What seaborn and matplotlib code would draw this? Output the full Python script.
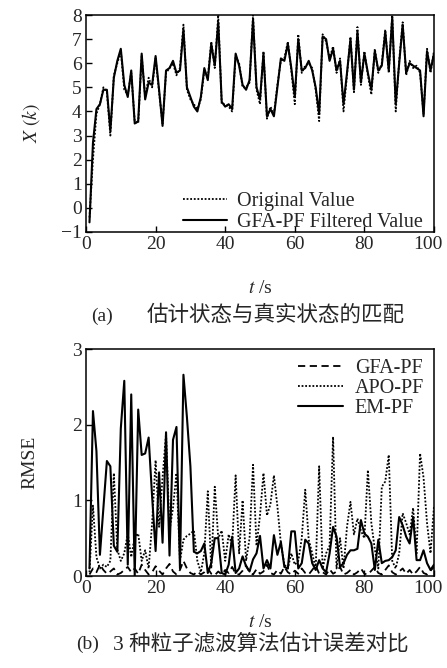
import numpy as np
import pandas as pd
import matplotlib
matplotlib.use('Agg')
import matplotlib.pyplot as plt
from matplotlib.transforms import ScaledTranslation
import seaborn as sns

# time steps
t = np.arange(1, 101)

# panel (a): state estimate vs true state
x_filtered = [-0.6, 2.7, 4.1, 4.3, 4.9, 4.9, 3.2, 5.4, 6.1, 6.6,
              5.1, 4.6, 5.7, 3.5, 3.6, 6.4, 4.5, 5.2, 5.1, 6.3,
              4.9, 3.4, 5.7, 5.8, 6.1, 5.6, 5.7, 7.4, 5.0, 4.6,
              4.2, 4.0, 4.6, 5.8, 5.3, 6.8, 5.9, 7.7, 4.4, 4.2,
              4.3, 4.1, 6.4, 5.9, 5.1, 4.9, 5.3, 7.8, 5.0, 4.5,
              6.4, 3.8, 4.1, 3.8, 5.0, 6.2, 6.1, 6.8, 5.8, 4.6,
              7.0, 5.7, 5.8, 6.1, 5.7, 5.0, 3.9, 7.1, 7.0, 6.1,
              6.6, 5.7, 6.1, 4.3, 5.6, 7.0, 4.9, 7.3, 5.2, 6.4,
              5.6, 4.9, 6.5, 5.7, 5.9, 7.3, 5.7, 7.9, 4.3, 6.0,
              7.6, 5.6, 6.0, 5.9, 5.8, 5.7, 3.8, 6.5, 5.7, 6.4]
x_original = [-0.4, 2.0, 3.9, 4.3, 5.0, 4.8, 3.0, 5.5, 6.0, 6.5,
              4.9, 4.7, 5.6, 3.6, 3.5, 6.3, 4.6, 5.4, 5.0, 6.2,
              4.8, 3.5, 5.6, 5.8, 6.0, 5.5, 5.8, 7.6, 4.9, 4.5,
              4.3, 4.1, 4.5, 5.7, 5.4, 6.9, 5.8, 8.0, 4.3, 4.3,
              4.2, 4.0, 6.3, 6.0, 5.0, 5.0, 5.2, 8.0, 4.9, 4.3,
              6.5, 3.7, 4.2, 3.9, 5.1, 6.1, 6.2, 6.9, 5.7, 4.3,
              7.2, 5.6, 5.9, 6.0, 5.8, 4.9, 3.6, 7.2, 6.9, 6.2,
              6.7, 5.6, 6.2, 4.0, 5.5, 7.1, 4.8, 7.5, 5.1, 6.5,
              5.5, 4.7, 6.6, 5.6, 6.0, 7.4, 5.6, 8.0, 4.0, 6.1,
              7.7, 5.5, 6.1, 5.8, 5.9, 5.6, 3.9, 6.6, 5.6, 6.5]

# panel (b): RMSE of the three filters
rmse_gfa = [0.02, 0.10, 0.05, 0.15, 0.08, 0.03, 0.06, 0.10, 0.02, 0.04,
            0.08, 0.12, 0.05, 0.10, 0.03, 0.15, 0.08, 0.02, 0.05, 0.13,
            0.07, 0.02, 0.10, 0.16, 0.06, 0.02, 0.08, 0.20, 0.10, 0.04,
            0.02, 0.06, 0.02, 0.05, 0.10, 0.03, 0.01, 0.06, 0.02, 0.08,
            0.04, 0.12, 0.03, 0.02, 0.07, 0.14, 0.05, 0.02, 0.09, 0.03,
            0.06, 0.15, 0.04, 0.02, 0.08, 0.03, 0.12, 0.05, 0.02, 0.07,
            0.03, 0.10, 0.04, 0.02, 0.08, 0.14, 0.03, 0.05, 0.02, 0.09,
            0.03, 0.06, 0.12, 0.02, 0.04, 0.08, 0.02, 0.05, 0.10, 0.03,
            0.02, 0.07, 0.12, 0.04, 0.02, 0.08, 0.14, 0.05, 0.02, 0.06,
            0.10, 0.03, 0.08, 0.02, 0.06, 0.12, 0.04, 0.02, 0.07, 0.12]
rmse_apo = [0.05, 0.93, 0.25, 0.10, 0.15, 0.12, 0.20, 1.36, 0.35, 0.20,
            0.30, 0.56, 0.25, 0.52, 0.56, 0.20, 0.34, 0.10, 0.70, 1.53,
            0.65, 1.30, 1.88, 0.60, 0.90, 1.36, 0.20, 0.48, 0.53, 0.56,
            0.60, 0.20, 0.05, 0.30, 1.12, 0.10, 1.18, 0.50, 0.60, 0.20,
            0.55, 0.40, 1.33, 0.30, 1.00, 0.20, 0.50, 1.47, 0.40, 0.80,
            1.36, 0.80, 0.95, 1.33, 0.92, 0.43, 0.15, 0.10, 0.30, 0.15,
            0.20, 0.50, 1.14, 0.48, 0.30, 0.10, 1.45, 0.10, 0.30, 0.40,
            1.84, 0.10, 0.50, 0.10, 0.65, 0.98, 0.55, 0.76, 0.60, 0.50,
            1.40, 0.70, 0.35, 0.10, 1.18, 1.25, 1.60, 0.20, 0.10, 0.30,
            0.83, 0.70, 0.55, 0.90, 0.30, 1.62, 1.30, 0.70, 0.30, 0.92]
rmse_em = [0.10, 2.18, 1.65, 0.28, 0.90, 1.52, 1.45, 0.40, 0.32, 1.95,
           2.58, 0.15, 2.40, 0.00, 2.20, 1.60, 1.62, 1.83, 1.05, 0.33,
           1.37, 0.44, 1.90, 0.27, 1.80, 1.97, 0.10, 2.66, 2.10, 1.45,
           0.32, 0.30, 0.33, 0.43, 0.04, 0.17, 0.50, 0.50, 0.04, 0.02,
           0.15, 0.52, 0.04, 0.10, 0.26, 0.13, 0.06, 0.22, 0.30, 0.53,
           0.10, 0.21, 0.10, 0.54, 0.28, 0.45, 0.12, 0.10, 0.59, 0.59,
           0.10, 0.17, 0.48, 0.43, 0.17, 0.08, 0.21, 0.10, 0.05, 0.30,
           0.65, 0.52, 0.12, 0.17, 0.28, 0.34, 0.34, 0.36, 0.74, 0.56,
           0.52, 0.43, 0.08, 0.48, 0.17, 0.20, 0.21, 0.25, 0.34, 0.78,
           0.67, 0.52, 0.43, 0.78, 0.21, 0.21, 0.34, 0.17, 0.08, 0.15]

DOT = (0, (1, 1))
DASH = (0, (4, 2.5))

sns.set_style('ticks')
plt.rcParams['font.family'] = ['Liberation Serif', 'Noto Sans CJK SC']
plt.rcParams['mathtext.fontset'] = 'stix'
plt.rcParams['xtick.direction'] = 'in'
plt.rcParams['ytick.direction'] = 'in'
plt.rcParams['axes.edgecolor'] = 'black'
plt.rcParams['axes.linewidth'] = 1.1

fig = plt.figure(figsize=(4.47, 6.68), dpi=100)
ax1 = fig.add_axes([0.1924, 0.6527, 0.7785, 0.3248])
ax2 = fig.add_axes([0.1924, 0.1377, 0.7785, 0.3398])

top = pd.DataFrame({'t': t, 'orig': x_original, 'filt': x_filtered})
sns.lineplot(data=top, x='t', y='orig', ax=ax1, color='black', lw=1.3,
             linestyle=DOT, label='Original Value')
sns.lineplot(data=top, x='t', y='filt', ax=ax1, color='black', lw=1.5,
             label='GFA-PF Filtered Value')
ax1.set_xlim(0, 100)
ax1.set_ylim(-1, 8)
ax1.set_yticks(range(-1, 9))
ax1.set_xticks(range(0, 101, 20))
ax1.set_xlabel(r'$t$ /s', fontsize=14, labelpad=19)
ax1.set_ylabel(r'$X\ (k)$', fontsize=14, labelpad=14)
ax1.legend(loc='lower right', bbox_to_anchor=(1.0, -0.05), frameon=False,
           fontsize=14.5, handlelength=2.2, handletextpad=0.5,
           labelspacing=0.1, borderaxespad=0.15)

bot = pd.DataFrame({'t': t, 'gfa': rmse_gfa, 'apo': rmse_apo, 'em': rmse_em})
sns.lineplot(data=bot, x='t', y='gfa', ax=ax2, color='black', lw=1.3,
             linestyle=DASH, label='GFA-PF')
sns.lineplot(data=bot, x='t', y='apo', ax=ax2, color='black', lw=1.3,
             linestyle=DOT, label='APO-PF')
sns.lineplot(data=bot, x='t', y='em', ax=ax2, color='black', lw=1.5,
             label='EM-PF')
ax2.set_xlim(0, 100)
ax2.set_ylim(0, 3)
ax2.set_yticks(range(0, 4))
ax2.set_xticks(range(0, 101, 20))
ax2.set_xlabel(r'$t$ /s', fontsize=14, labelpad=12)
ax2.set_ylabel('RMSE', fontsize=14, labelpad=24)
ax2.legend(loc='upper right', frameon=False, fontsize=14.5, handlelength=2.2,
           handletextpad=0.6, labelspacing=0.05, borderaxespad=0.1)

shift = ScaledTranslation(-6 / 100, 0, fig.dpi_scale_trans)
for ax in (ax1, ax2):
    ax.tick_params(labelsize=14, length=4, width=1, color='black', pad=3)
    for s in ax.spines.values():
        s.set_visible(True)
    last = ax.xaxis.get_major_ticks()[-1].label1
    last.set_transform(last.get_transform() + shift)

fig.text(0.228, 1 - 316 / 668, '(a)', fontsize=14, ha='center', va='center')
fig.text(147 / 447, 1 - 316 / 668, '估计状态与真实状态的匹配', fontsize=15.5,
         ha='left', va='center')
fig.text(0.195, 1 - 644 / 668, '(b)', fontsize=14, ha='center', va='center')
fig.text(113 / 447, 1 - 644 / 668, '3 种粒子滤波算法估计误差对比', fontsize=15.5,
         ha='left', va='center')

fig.savefig('out.png', dpi=100)
